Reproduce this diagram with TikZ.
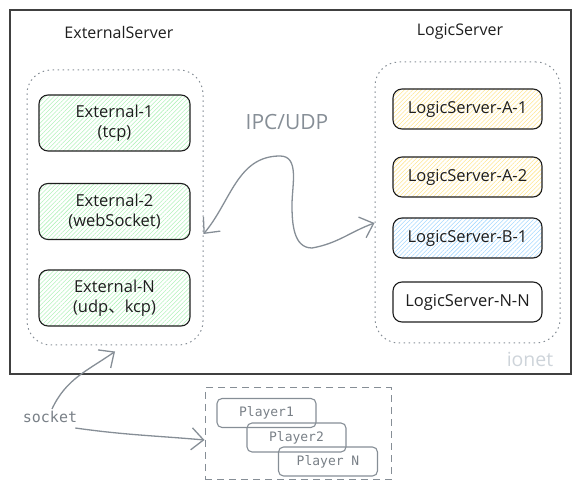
\documentclass[tikz,border=0pt]{standalone}
\usepackage{fontspec}
\setmainfont{Open Sans}
\setmonofont{DejaVu Sans Mono}
\newfontfamily\cjk{Noto Sans CJK SC}
\usetikzlibrary{arrows.meta,patterns.meta}

\definecolor{inkDark}{HTML}{1E1E1E}
\definecolor{inkGray}{HTML}{868E96}
\definecolor{inkLight}{HTML}{CED4DA}
\definecolor{hatchGreen}{HTML}{B2F2BB}
\definecolor{hatchYellow}{HTML}{FFE58F}
\definecolor{hatchBlue}{HTML}{A5D8FF}

\begin{document}
\begin{tikzpicture}[
  x=1pt, y=1pt,
  every node/.style={
    font=\fontsize{16.5}{20}\selectfont, text=inkDark,
    align=center, inner sep=2pt,
  },
  box/.style={
    draw=inkDark, line width=1.1pt, rounded corners=9pt,
    pattern={Lines[angle=45,distance=3pt,line width=.55pt]},
  },
  extbox/.style={box, pattern color=hatchGreen,
    minimum width=151pt, minimum height=56pt},
  logicbox/.style={box, minimum width=149pt, minimum height=40pt},
  group/.style={draw=inkGray, line width=1pt, rounded corners=24pt,
    dash pattern=on 1.5pt off 3.5pt},
  player/.style={draw=inkGray, line width=1.1pt, rounded corners=5pt,
    minimum width=99pt, minimum height=29pt,
    font=\ttfamily\fontsize{13}{15}\selectfont, text=inkGray!90!black},
  link/.style={draw=inkGray, line width=1.3pt,
    >={Straight Barb[length=12pt,width=22pt]}},
]

  \useasboundingbox (0,0) rectangle (584,490);
  \draw [line width=1.3pt, draw=black!75] (10,116) rectangle (571,480);

  % external side
  \node [font=\fontsize{16}{19}\selectfont] (ExtTitle) at (119,457) {ExternalServer};
  \node [group, minimum width=176pt, minimum height=275pt] (ExtGroup) at (115,282.5) {};
  \node [extbox] (Ext1) at (114.5,367) {External-1\\(tcp)};
  \node [extbox] (Ext2) at (114.5,278.5) {External-2\\(webSocket)};
  \node [extbox] (ExtN) at (114.5,192) {External-N\\(udp{\cjk 、}kcp)};

  % logic side
  \node [font=\fontsize{16}{19}\selectfont] (LogicTitle) at (460,458) {LogicServer};
  \node [group, minimum width=185pt, minimum height=281pt] (LogicGroup) at (467.5,287.5) {};
  \node [logicbox, pattern color=hatchYellow] (LogicA1) at (467.5,381) {LogicServer-A-1};
  \node [logicbox, pattern color=hatchYellow] (LogicA2) at (467.5,313) {LogicServer-A-2};
  \node [logicbox, pattern color=hatchBlue] (LogicB1) at (467.5,252) {LogicServer-B-1};
  \node [logicbox, pattern color=white] (LogicNN) at (467.5,188) {LogicServer-N-N};

  \node [font=\fontsize{21}{24}\selectfont, text=inkGray] (Ipc) at (287,368) {IPC/UDP};
  \node [font=\fontsize{19.5}{22}\selectfont, text=inkLight] (Ionet) at (530,131) {ionet};

  \path [link, <->] ([yshift=-26.5pt]ExtGroup.east)
    to[out=50,in=180] (280,334) to[out=0,in=90] (292,285)
    to[out=-90,in=180] (312,242) to[out=10,in=200] ([yshift=-20.5pt]LogicGroup.west);

  % clients
  \node [draw=inkGray, line width=1pt, dash pattern=on 7pt off 5pt,
    minimum width=186pt, minimum height=92pt] (Players) at (298,56) {};
  \node [player] (Player1) at (266.5,77) {Player1};
  \node [player] (Player2) at (296.5,52.5) {Player2};
  \node [player] (PlayerN) at (328,28.5) {Player N};

  \node [font=\ttfamily\fontsize{15}{17}\selectfont, text=inkGray!90!black] (Socket) at (50,73) {socket};
  \path [link, ->] ([xshift=2pt]Socket.north) to[out=65,in=215] ([yshift=-6pt]ExtGroup.south);
  \path [link, ->] ([xshift=-4pt,yshift=-3pt]Socket.south east) to[out=-8,in=175] ([yshift=-6pt]Players.west);

\end{tikzpicture}
\end{document}
